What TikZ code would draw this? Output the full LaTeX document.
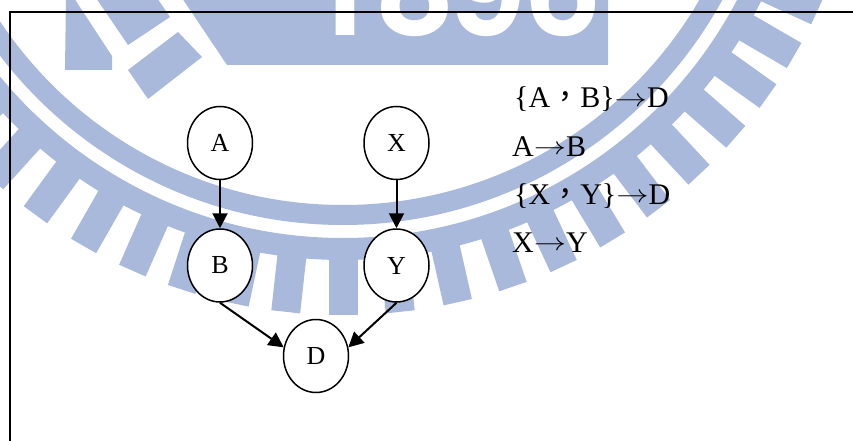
\documentclass[tikz,border=0pt]{standalone}
\usepackage{fontspec}
\setmainfont{Liberation Serif}
\newfontfamily\wmfont{TeX Gyre Heros}
\newfontfamily\cjk{Noto Sans CJK TC}
\usepackage{xcolor}
\usepackage{graphicx}
\usetikzlibrary{arrows.meta,positioning,shapes.geometric}
\definecolor{logoblue}{HTML}{A8B9DC}
\newcommand{\ruletext}[1]{\fontsize{30}{36}\selectfont #1}
\newcommand{\wide}{{\cjk ，}}
\newcommand{\yields}{\raisebox{1.5pt}{\scalebox{1.3}[1]{$\rightarrow$}}}
\tikzset{
  varnode/.style={
    ellipse, draw=black, line width=1.5pt, fill=white,
    minimum width=65pt, minimum height=73pt, inner sep=0pt,
    font=\fontsize{26}{30}\selectfont
  },
  depedge/.style={-{Triangle[length=15pt,width=15pt]}, line width=2pt, color=black},
  ruleline/.style={anchor=base west, inner sep=0pt, font=\ruletext{}},
  logoshape/.style={fill=logoblue, draw=none},
  logotooth/.style={logoblue, line width=29pt},
}

\begin{document}
\begin{tikzpicture}[x=1pt,y=-1pt,node distance=48pt]
  \useasboundingbox (0,0) rectangle (853,441);
  % watermark
  \begin{scope}
    \clip (0,0) rectangle (853,441);
    \fill[logoshape] (66,-5) -- (65,70) -- (112,70) -- (112,56) -- (72,-5) -- cycle;
    \fill[logoshape] (94,-5) -- (128,45) -- (170,17) -- (155,-5) -- cycle;
    \fill[logoshape] (178,32) -- (202,57) -- (148,99) -- (128,70) -- cycle;
    \fill[logoshape] (180,-5) -- (227,65) -- (608,65) -- (608,-5) -- cycle;
    \node[white, font=\wmfont\bfseries\fontsize{133}{133}\selectfont, anchor=base west, inner sep=0pt] (logoyear) at (304,35.5) {1896};
    \draw[logoblue, line width=20pt] (343,-207) circle [radius=422pt];
    \draw[logoblue, line width=22pt] (343,-207) circle [radius=456pt];
    \foreach \ang in {-67,-61,-55,-48.5,-42.2,-36.1,-29.8,-23.8,-18,-12,-6.3,0,6.3,12.7,19,25,31.1,37.2,43,48.8,54.5,59.8,65.3,71}
      \draw[logotooth] ({343+460*sin(\ang)},{-207+460*cos(\ang)}) -- ({343+522*sin(\ang)},{-207+522*cos(\ang)});
  \end{scope}
  % frame
  \draw[line width=1.5pt] (10,441) -- (10,12) -- (853,12);
  % graph
  \node[varnode] (a) at (220,143) {A};
  \node[varnode, below=of a] (b) {B};
  \node[varnode, right=110pt of a] (x) {X};
  \node[varnode, below=of x] (y) {Y};
  \node[varnode] (d) at (316,356) {D};
  \foreach \p/\q in {a/b,x/y}
    \draw[depedge] (\p) -- (\q);
  \draw[depedge] (b.south) -- (d.165);
  \draw[depedge] (y.south) -- (d.15);
  % rules
  \node[ruleline] (r1) at (514,108) {\{A\wide B\}\yields D};
  \node[ruleline] (r2) at (512,156) {A\yields B};
  \node[ruleline] (r3) at (514,204) {\{X\wide Y\}\yields D};
  \node[ruleline] (r4) at (512,252) {X\yields Y};
\end{tikzpicture}
\end{document}
